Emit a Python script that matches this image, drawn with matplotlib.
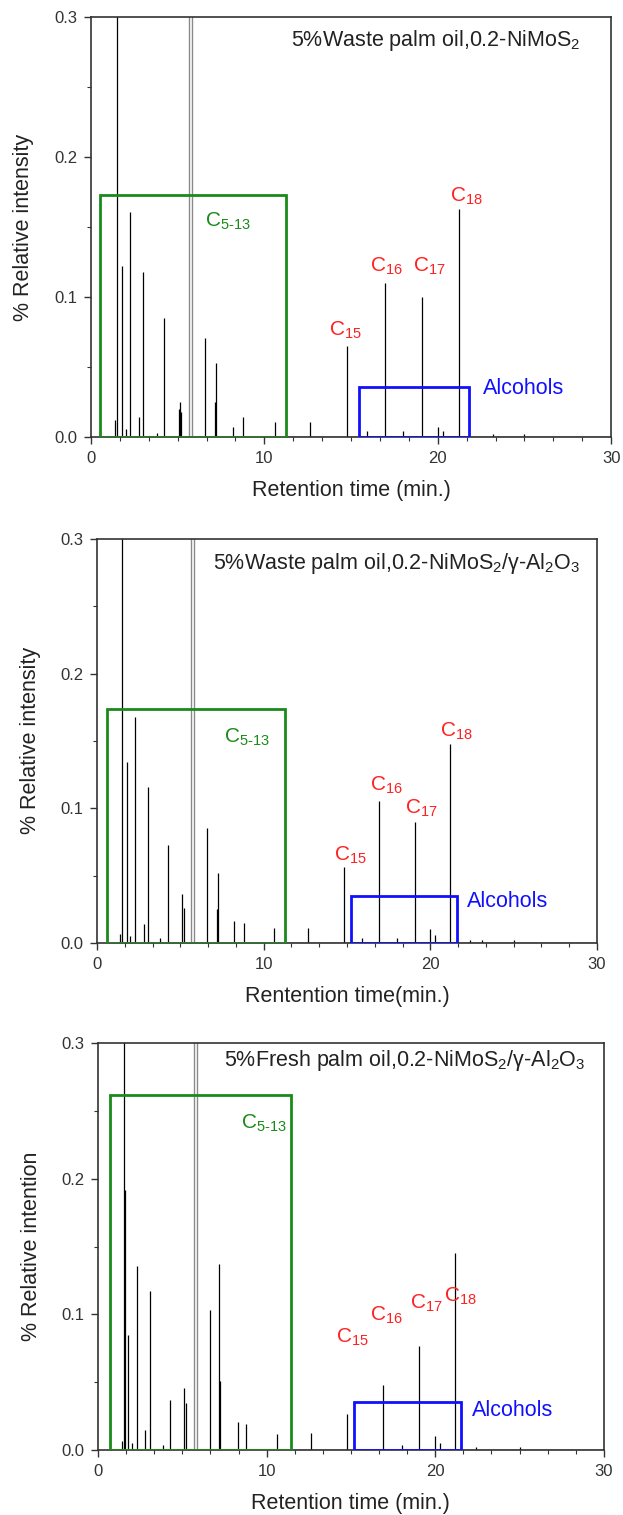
import matplotlib
matplotlib.use("Agg")
import matplotlib.pyplot as plt
from matplotlib.patches import Rectangle
from matplotlib.ticker import MultipleLocator, FormatStrFormatter

plt.rcParams['font.family'] = ['Liberation Sans', 'DejaVu Sans']
plt.rcParams['mathtext.default'] = 'regular'

# peak retention times (min) and heights (% relative intensity); >0.3 runs off scale
t1 = [1.38, 1.49, 1.77, 2.0, 2.23, 2.75, 3.03, 3.8, 4.2, 5.05, 5.12, 5.2, 6.59, 7.15, 7.23,
      8.22, 8.77, 10.6, 12.62, 14.76, 15.9, 16.94, 18.0, 19.1, 20.0, 20.3, 21.2, 23.2, 25.0]
h1 = [0.012, 0.4, 0.122, 0.006, 0.161, 0.0145, 0.118, 0.003, 0.085, 0.02, 0.025, 0.018, 0.071, 0.025, 0.053,
      0.007, 0.0145, 0.0105, 0.0105, 0.0646, 0.004, 0.110, 0.004, 0.100, 0.007, 0.004, 0.163, 0.002, 0.002]

t2 = [1.36, 1.52, 1.79, 2.0, 2.26, 2.79, 3.07, 3.8, 4.24, 5.12, 5.2, 6.6, 7.19, 7.26,
      8.24, 8.79, 10.64, 12.64, 14.79, 15.9, 16.93, 18.0, 19.07, 20.0, 20.3, 21.17, 22.4, 23.1, 25.0]
h2 = [0.007, 0.4, 0.134, 0.005, 0.168, 0.014, 0.1155, 0.004, 0.073, 0.036, 0.026, 0.0855, 0.0255, 0.0516,
      0.0164, 0.015, 0.011, 0.011, 0.0565, 0.004, 0.1056, 0.004, 0.090, 0.01, 0.006, 0.1475, 0.002, 0.002, 0.002]

t3 = [1.4, 1.53, 1.58, 1.77, 2.0, 2.29, 2.78, 3.07, 3.84, 4.27, 5.12, 5.24, 6.65, 7.15, 7.24,
      8.28, 8.77, 10.6, 12.64, 14.76, 16.9, 18.0, 19.06, 20.0, 20.3, 21.16, 22.4, 25.0]
h3 = [0.007, 0.4, 0.192, 0.085, 0.005, 0.136, 0.015, 0.117, 0.004, 0.0365, 0.0455, 0.035, 0.1035, 0.137, 0.051,
      0.0204, 0.019, 0.0118, 0.0123, 0.0266, 0.048, 0.004, 0.077, 0.01, 0.005, 0.145, 0.002, 0.002]

# the two grey off-scale peaks near 5.7 min
grey_t = [[5.63, 5.83], [5.65, 5.84], [5.67, 5.86]]

titles = [r'5%Waste palm oil,0.2-NiMoS$_2$',
          r'5%Waste palm oil,0.2-NiMoS$_2$/γ-Al$_2$O$_3$',
          r'5%Fresh palm oil,0.2-NiMoS$_2$/γ-Al$_2$O$_3$']
ylabels = ['% Relative intensity', '% Relative intensity', '% Relative intention']
xlabels = ['Retention time (min.)', 'Rentention time(min.)', 'Retention time (min.)']

carbon = ['C$_{15}$', 'C$_{16}$', 'C$_{17}$', 'C$_{18}$']
c_pos = [[(13.7, 0.072), (16.1, 0.118), (18.6, 0.118), (20.7, 0.168)],
         [(14.2, 0.061), (16.4, 0.113), (18.45, 0.096), (20.6, 0.153)],
         [(14.1, 0.079), (16.15, 0.095), (18.5, 0.104), (20.5, 0.109)]]
c513_pos = [(6.6, 0.150), (7.6, 0.149), (8.5, 0.237)]
green_box = [(0.5, 11.25, 0.1727), (0.6, 11.3, 0.174), (0.7, 11.44, 0.2616)]
blue_box = [(15.45, 21.8, 0.0355), (15.26, 21.6, 0.0347), (15.2, 21.5, 0.0357)]
alc_pos = [(22.6, 0.031), (22.2, 0.027), (22.2, 0.025)]
title_pos = [(28.2, 0.283), (29.0, 0.282), (28.9, 0.287)]

axes_rect = [[0.146, 0.7116, 0.835, 0.2772],
             [0.1557, 0.3776, 0.8026, 0.2667],
             [0.1573, 0.0429, 0.812, 0.2686]]

fig = plt.figure(figsize=(6.23, 15.15), dpi=100)
data = [(t1, h1), (t2, h2), (t3, h3)]

for i, (t, h) in enumerate(data):
    ax = fig.add_axes(axes_rect[i])
    ax.vlines(t, 0, h, color='black', linewidth=0.9)
    ax.vlines(grey_t[i], 0, 0.4, color='#8a8a8a', linewidth=1.0)
    ax.plot([1.2, 30], [0, 0], color='black', linewidth=1.0)

    ax.add_patch(Rectangle((green_box[i][0], 0), green_box[i][1] - green_box[i][0], green_box[i][2],
                           fill=False, edgecolor='#1a8a1a', linewidth=2.0, zorder=3))
    ax.add_patch(Rectangle((blue_box[i][0], 0), blue_box[i][1] - blue_box[i][0], blue_box[i][2],
                           fill=False, edgecolor='#1010ff', linewidth=2.0, zorder=3))

    ax.text(c513_pos[i][0], c513_pos[i][1], 'C$_{5\u201013}$', color='#1a8a1a', fontsize=15)
    for lab, (x, y) in zip(carbon, c_pos[i]):
        ax.text(x, y, lab, color='#ff2020', fontsize=15)
    ax.text(alc_pos[i][0], alc_pos[i][1], 'Alcohols', color='#1010ff', fontsize=15.5)
    ax.text(title_pos[i][0], title_pos[i][1], titles[i], ha='right', va='center', fontsize=15.5,
            color='#222222')

    ax.set_xlim(0, 30)
    ax.set_ylim(0, 0.3)
    ax.xaxis.set_major_locator(MultipleLocator(10))
    ax.xaxis.set_minor_locator(MultipleLocator(10 / 6))
    ax.yaxis.set_major_locator(MultipleLocator(0.1))
    ax.yaxis.set_minor_locator(MultipleLocator(0.05))
    ax.yaxis.set_major_formatter(FormatStrFormatter('%.1f'))
    ax.tick_params(which='major', direction='out', length=5, width=1.0, labelsize=12, pad=5,
                   colors='#333333', labelcolor='#333333')
    ax.tick_params(which='minor', direction='out', length=3, width=0.8, colors='#333333')
    for s in ax.spines.values():
        s.set_color('#333333')
        s.set_linewidth(1.2)
    ax.set_xlabel(xlabels[i], fontsize=15.5, color='#222222', labelpad=10)
    ax.set_ylabel(ylabels[i], fontsize=15.5, color='#222222', labelpad=14)

fig.savefig('out.png', dpi=100)
